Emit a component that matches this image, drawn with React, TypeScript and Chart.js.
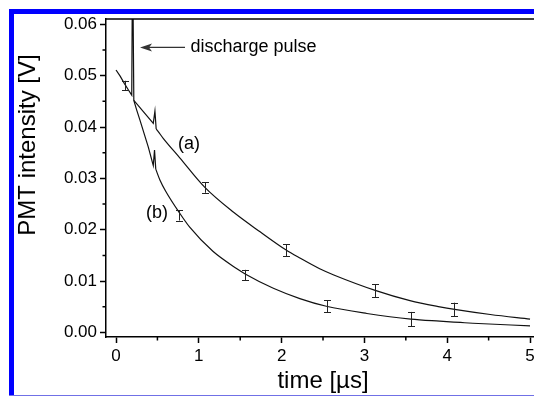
import React, { useEffect, useRef } from "react";
import { Chart, registerables } from "chart.js";

Chart.register(...registerables);

// Shared early segment with the discharge pulse, then curve (a) up to its small spike
const T_A_EARLY = [0, 0.05, 0.1, 0.15, 0.19, 0.2, 0.215, 0.33, 0.45, 0.47, 0.485];
const V_A_EARLY = [0.0511, 0.0499, 0.0485, 0.0472, 0.0462, 0.075, 0.0452, 0.043, 0.0407, 0.0431, 0.0396];
// Curve (a) decay
const T_A = [0.485, 0.51, 0.57, 0.77, 1.07, 1.42, 1.74, 2.05, 2.22, 2.46, 2.63, 3.13, 3.55, 3.91, 4.09, 4.52, 5.0];
const V_A = [0.0396, 0.0391, 0.0378, 0.034, 0.0283, 0.0234, 0.0196, 0.0161, 0.0145, 0.0124, 0.0112, 0.0082, 0.0062, 0.005, 0.0045, 0.0035, 0.0026];

// Curve (b) early part with its small spike
const T_B_EARLY = [0.215, 0.25, 0.29, 0.39, 0.45, 0.465, 0.48];
const V_B_EARLY = [0.0452, 0.0433, 0.0413, 0.0361, 0.0325, 0.0355, 0.0318];
// Curve (b) decay
const T_B = [0.48, 0.53, 0.6, 0.77, 0.89, 1.17, 1.46, 1.56, 1.9, 2.22, 2.54, 3.03, 3.56, 3.91, 4.16, 4.31, 5.0];
const V_B = [0.0318, 0.0297, 0.0275, 0.0232, 0.0205, 0.0158, 0.0124, 0.0114, 0.0086, 0.0066, 0.0051, 0.0037, 0.0026, 0.0022, 0.00195, 0.0018, 0.0013];

// Error bars
const ERR_A_T = [0.11, 1.075, 2.05, 3.13, 4.086];
const ERR_A_V = [0.0481, 0.0282, 0.016, 0.0081, 0.0045];
const ERR_A_E = [0.0009, 0.001, 0.00114, 0.00126, 0.0013];
const ERR_B_T = [0.76, 1.56, 2.545, 3.56];
const ERR_B_V = [0.0228, 0.0112, 0.0051, 0.0026];
const ERR_B_E = [0.001, 0.001, 0.0012, 0.0014];

// Axes
const X_MIN = -0.121;
const X_MAX = 5.048;
const Y_MIN = -0.00088;
const Y_MAX = 0.06103;
const X_TICKS = [0, 1, 2, 3, 4, 5];
const X_MINOR = [0.5, 1.5, 2.5, 3.5, 4.5];
const Y_TICKS = [0, 0.01, 0.02, 0.03, 0.04, 0.05, 0.06];
const Y_MINOR = [0.005, 0.015, 0.025, 0.035, 0.045, 0.055];

const X_TITLE = "time [µs]";
const Y_TITLE = "PMT intensity [V]";
const PULSE_LABEL = "discharge pulse";
const LABEL_A = "(a)";
const LABEL_B = "(b)";

// annotation anchors in data coordinates
const ARROW_T = [0.29, 0.833];
const ARROW_V = 0.0555;
const PULSE_T = 0.9;
const LABEL_A_POS = [0.88, 0.0367];
const LABEL_B_POS = [0.495, 0.0232];

const FONT = "'Liberation Sans', Arial, Helvetica, sans-serif";

const decorPlugin = {
  id: "decor",
  afterDatasetsDraw(chart: any) {
    const ctx = chart.ctx;
    const xs = chart.scales.x;
    const ys = chart.scales.y;
    ctx.save();
    const drawErr = (ts: number[], vs: number[], es: number[]) => {
      ctx.strokeStyle = "#222";
      ctx.lineWidth = 1;
      for (let i = 0; i < ts.length; i++) {
        const px = Math.round(xs.getPixelForValue(ts[i])) + 0.5;
        const y1 = ys.getPixelForValue(vs[i] + es[i]);
        const y2 = ys.getPixelForValue(vs[i] - es[i]);
        ctx.beginPath();
        ctx.moveTo(px, y1);
        ctx.lineTo(px, y2);
        ctx.moveTo(px - 3.5, Math.round(y1) + 0.5);
        ctx.lineTo(px + 3.5, Math.round(y1) + 0.5);
        ctx.moveTo(px - 3.5, Math.round(y2) + 0.5);
        ctx.lineTo(px + 3.5, Math.round(y2) + 0.5);
        ctx.stroke();
      }
    };
    drawErr(ERR_A_T, ERR_A_V, ERR_A_E);
    drawErr(ERR_B_T, ERR_B_V, ERR_B_E);
    ctx.restore();
  },
  afterDraw(chart: any) {
    const ctx = chart.ctx;
    const xs = chart.scales.x;
    const ys = chart.scales.y;
    const ca = chart.chartArea;
    ctx.save();
    ctx.strokeStyle = "#000";
    ctx.lineWidth = 1.5;
    ctx.beginPath();
    ctx.moveTo(ca.left, ca.top);
    ctx.lineTo(ca.right, ca.top);
    ctx.stroke();
    ctx.beginPath();
    for (const v of X_MINOR) {
      const px = xs.getPixelForValue(v);
      ctx.moveTo(px, ca.bottom);
      ctx.lineTo(px, ca.bottom + 3.5);
    }
    for (const v of Y_MINOR) {
      const py = ys.getPixelForValue(v);
      ctx.moveTo(ca.left, py);
      ctx.lineTo(ca.left - 3.5, py);
    }
    ctx.stroke();

    const ax1 = xs.getPixelForValue(ARROW_T[0]);
    const ax2 = xs.getPixelForValue(ARROW_T[1]);
    const ay = ys.getPixelForValue(ARROW_V);
    ctx.strokeStyle = "#333";
    ctx.fillStyle = "#333";
    ctx.lineWidth = 1.4;
    ctx.beginPath();
    ctx.moveTo(ax1 + 6, ay);
    ctx.lineTo(ax2, ay);
    ctx.stroke();
    ctx.beginPath();
    ctx.moveTo(ax1, ay);
    ctx.lineTo(ax1 + 12, ay - 4);
    ctx.lineTo(ax1 + 9, ay);
    ctx.lineTo(ax1 + 12, ay + 4);
    ctx.closePath();
    ctx.fill();

    ctx.fillStyle = "#000";
    ctx.font = `18px ${FONT}`;
    ctx.textBaseline = "middle";
    ctx.textAlign = "left";
    ctx.fillText(PULSE_LABEL, xs.getPixelForValue(PULSE_T), ay);
    ctx.textAlign = "center";
    ctx.fillText(LABEL_A, xs.getPixelForValue(LABEL_A_POS[0]), ys.getPixelForValue(LABEL_A_POS[1]));
    ctx.fillText(LABEL_B, xs.getPixelForValue(LABEL_B_POS[0]), ys.getPixelForValue(LABEL_B_POS[1]));

    ctx.font = `24px ${FONT}`;
    ctx.textAlign = "center";
    ctx.textBaseline = "alphabetic";
    ctx.fillText(X_TITLE, (ca.left + ca.right) / 2 + 3, 388);
    ctx.translate(35, 145);
    ctx.rotate(-Math.PI / 2);
    ctx.fillText(Y_TITLE, 0, 0);
    ctx.restore();
  },
};

export default function App() {
  const ref = useRef<HTMLCanvasElement | null>(null);
  useEffect(() => {
    if (!ref.current) return;
    const base = {
      borderColor: "#111",
      borderWidth: 1.2,
      pointRadius: 0,
      fill: false,
    };
    const pts = (ts: number[], vs: number[]) => ts.map((t, i) => ({ x: t, y: vs[i] }));
    const chart = new Chart(ref.current, {
      type: "line",
      data: {
        datasets: [
          { label: "(a) early", data: pts(T_A_EARLY, V_A_EARLY), ...base, tension: 0 },
          { label: "(a)", data: pts(T_A, V_A), ...base, cubicInterpolationMode: "monotone" },
          { label: "(b) early", data: pts(T_B_EARLY, V_B_EARLY), ...base, tension: 0 },
          { label: "(b)", data: pts(T_B, V_B), ...base, cubicInterpolationMode: "monotone" },
        ],
      },
      options: {
        animation: false,
        responsive: false,
        devicePixelRatio: 1,
        layout: { padding: { left: 0, top: 19, right: 0, bottom: 0 } },
        plugins: { legend: { display: false }, tooltip: { enabled: false }, title: { display: false } },
        scales: {
          x: {
            type: "linear",
            min: X_MIN,
            max: X_MAX,
            afterBuildTicks: (s: any) => {
              s.ticks = X_TICKS.map((v) => ({ value: v }));
            },
            afterFit: (s: any) => {
              s.height = 59;
              s.paddingLeft = 0;
              s.paddingRight = 0;
            },
            ticks: {
              font: { family: FONT, size: 17 },
              color: "#000",
              padding: 3,
              maxRotation: 0,
              autoSkip: false,
              callback: (v: any) => String(v),
            },
            grid: { display: true, drawOnChartArea: false, drawTicks: true, tickLength: 6, tickColor: "#000", tickWidth: 1.5 },
            border: { display: true, color: "#000", width: 1.5 },
          },
          y: {
            type: "linear",
            min: Y_MIN,
            max: Y_MAX,
            afterBuildTicks: (s: any) => {
              s.ticks = Y_TICKS.map((v) => ({ value: v }));
            },
            afterFit: (s: any) => {
              s.width = 106;
              s.paddingTop = 0;
              s.paddingBottom = 0;
            },
            ticks: {
              font: { family: FONT, size: 17 },
              color: "#000",
              padding: 3,
              autoSkip: false,
              callback: (v: any) => Number(v).toFixed(2),
            },
            grid: { display: true, drawOnChartArea: false, drawTicks: true, tickLength: 6, tickColor: "#000", tickWidth: 1.5 },
            border: { display: true, color: "#000", width: 1.5 },
          },
        },
      },
      plugins: [decorPlugin],
    } as any);
    return () => chart.destroy();
  }, []);

  return (
    <div style={{ position: "fixed", left: 0, top: 0, width: 534, height: 396, overflow: "hidden", background: "#fff" }}>
      <canvas ref={ref} width={534} height={396} style={{ position: "absolute", left: 0, top: 0 }} />
      <div style={{ position: "absolute", left: 9, top: 9, width: 5, height: 387, background: "#0000ff" }} />
      <div style={{ position: "absolute", left: 9, top: 9, width: 525, height: 5, background: "#0000ff" }} />
      <div style={{ position: "absolute", left: 9, top: 395, width: 525, height: 1, background: "#7070e6" }} />
    </div>
  );
}
